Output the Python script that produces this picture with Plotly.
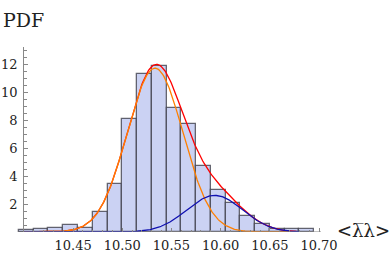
import numpy as np
import plotly.graph_objects as go

# Histogram (PDF), bin width 0.015 starting at 10.395
bin_start = 10.395
bin_width = 0.015
pdf_values = [0.13, 0.23, 0.30, 0.49, 0.30, 1.41, 3.41, 8.06, 11.34, 11.90,
              8.91, 7.70, 4.70, 2.99, 2.09, 1.13, 0.54, 0.25, 0.18, 0.18]

# Gaussian fit components: amplitude, mean, sigma
fit_orange = [11.73, 10.5333, 0.0283]
fit_blue = [2.62, 10.594, 0.0283]
curve_range = [10.40, 10.68]

x_ticks = [10.45, 10.50, 10.55, 10.60, 10.65, 10.70]
y_ticks = [2, 4, 6, 8, 10, 12]

centers = [bin_start + bin_width * (i + 0.5) for i in range(len(pdf_values))]


def gauss(x, p):
    return p[0] * np.exp(-(x - p[1]) ** 2 / (2 * p[2] ** 2))


xs = np.linspace(curve_range[0], curve_range[1], 300)
orange = gauss(xs, fit_orange)
blue = gauss(xs, fit_blue)

serif = "DejaVu Serif"

x_min, x_max = 10.393, 10.702
y_axis_at = 10.3992
y_pos = (y_axis_at - x_min) / (x_max - x_min)

fig = go.Figure()
fig.add_trace(go.Bar(
    x=centers, y=pdf_values, width=bin_width,
    marker=dict(color="#cbd2f3", line=dict(color="rgba(55,55,65,0.75)", width=1.3)),
    showlegend=False,
))
fig.add_trace(go.Scatter(x=xs, y=orange + blue, mode="lines",
                         line=dict(color="#ff0000", width=1.3), showlegend=False))
fig.add_trace(go.Scatter(x=xs, y=orange, mode="lines",
                         line=dict(color="#ff7f00", width=1.3), showlegend=False))
fig.add_trace(go.Scatter(x=xs, y=blue, mode="lines",
                         line=dict(color="#1010b0", width=1.3), showlegend=False))

fig.update_layout(
    template="none",
    width=390, height=257,
    margin=dict(l=17, r=69, t=47, b=24.5),
    paper_bgcolor="white", plot_bgcolor="white",
    bargap=0,
    font=dict(family=serif, color="#222"),
    xaxis=dict(
        range=[x_min, x_max], showgrid=False, zeroline=False,
        showline=False,
        tickvals=x_ticks, tickformat=".2f",
        ticks="inside", ticklen=4, tickcolor="#888",
        tickfont=dict(family=serif, size=13, color="#222"),
        ticklabelstandoff=4,
        minor=dict(dtick=0.01, tick0=10.40, ticks="inside", ticklen=2.5, tickcolor="#888"),
    ),
    yaxis=dict(
        range=[0, 13.25], showgrid=False, zeroline=False,
        anchor="free", position=y_pos,
        showline=True, linecolor="#888", linewidth=1,
        tickvals=y_ticks,
        ticks="inside", ticklen=4, tickcolor="#888",
        tickfont=dict(family=serif, size=13, color="#222"),
        ticklabelstandoff=3,
        minor=dict(dtick=0.5, tick0=0, ticks="inside", ticklen=2.5, tickcolor="#888"),
    ),
)

# x axis line starts at the y axis, like the original
fig.add_shape(type="line", xref="x", yref="y", x0=y_axis_at, x1=x_max, y0=0, y1=0,
              line=dict(color="#888", width=1))

fig.add_annotation(text="PDF", xref="paper", yref="paper",
                   x=(1 - 17) / 304, y=1 + (47 - 20) / 185.5,
                   xanchor="left", yanchor="middle", showarrow=False,
                   font=dict(family=serif, size=19, color="#222"))
fig.add_annotation(text="<λ\u0305λ>", xref="paper", yref="paper",
                   x=(363 - 17) / 304, y=(232.5 - 231) / 185.5,
                   xanchor="center", yanchor="middle", showarrow=False,
                   font=dict(family=serif, size=18, color="#222"))

fig.write_html("out.html", config={"displayModeBar": False},
               post_script="document.body.style.margin='0';")
